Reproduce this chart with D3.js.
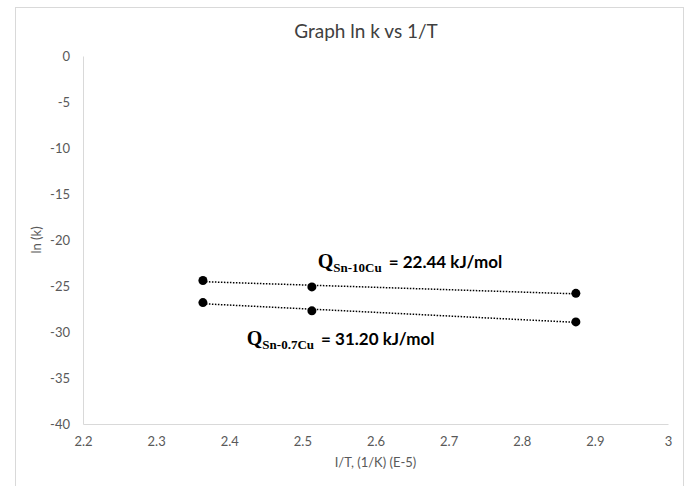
<!DOCTYPE html>
<html>
<head>
<meta charset="utf-8">
<script src="https://cdn.jsdelivr.net/npm/d3@7"></script>
<style>
  body { margin: 0; background: #fff; }
  svg { display: block; }
  .tick text { fill: #595959; font-family: Lato, "Liberation Sans", sans-serif; font-size: 13px; }
  .axisTitle { fill: #595959; font-family: Lato, "Liberation Sans", sans-serif; font-size: 13px; }
</style>
</head>
<body>
<svg width="688" height="486"></svg>
<script>
// 1/T values (E-5 as labelled on the chart)
const invT = [2.364, 2.513, 2.874];
const lnkSn10Cu = [-24.4, -25.1, -25.8];
const lnkSn07Cu = [-26.8, -27.7, -28.9];
const xTicks = [2.2, 2.3, 2.4, 2.5, 2.6, 2.7, 2.8, 2.9, 3];
const yTicks = [0, -5, -10, -15, -20, -25, -30, -35, -40];
const labels = [
    { main: "Q", sub: "Sn-10Cu", rest: "= 22.44 kJ/mol", at: [2.521, -23.0] },
    { main: "Q", sub: "Sn-0.7Cu", rest: "= 31.20 kJ/mol", at: [2.424, -31.4] }
];

const svg = d3.select('svg');

// chart frame
svg.append('rect')
    .attr('x', 15.5).attr('y', 7.5)
    .attr('width', 668).attr('height', 500)
    .attr('fill', '#fff')
    .attr('stroke', '#d9d9d9');

const x = d3.scaleLinear().domain([2.2, 3]).range([83, 668]);
const y = d3.scaleLinear().domain([-40, 0]).range([424, 56]);

const xAxis = svg.append('g')
    .attr('transform', 'translate(0,' + y(-40) + ')')
    .call(d3.axisBottom(x).tickValues(xTicks).tickSize(0).tickPadding(13).tickFormat(d3.format('')));
xAxis.select('.domain').attr('stroke', '#d9d9d9').attr('stroke-width', 1);

const yAxis = svg.append('g')
    .attr('transform', 'translate(' + x(2.2) + ',0)')
    .call(d3.axisLeft(y).tickValues(yTicks).tickSize(0).tickPadding(13).tickFormat(d => d));
yAxis.select('.domain').attr('stroke', '#d9d9d9').attr('stroke-width', 1);

// title and axis titles
svg.append('text')
    .attr('x', 366).attr('y', 38)
    .attr('text-anchor', 'middle')
    .attr('fill', '#404040')
    .style('font-family', 'Lato, "Liberation Sans", sans-serif')
    .style('font-size', '19px')
    .text('Graph ln k vs 1/T');

svg.append('text')
    .attr('class', 'axisTitle')
    .attr('x', (x(2.2) + x(3)) / 2).attr('y', 467)
    .attr('text-anchor', 'middle')
    .text('I/T, (1/K) (E-5)');

svg.append('text')
    .attr('class', 'axisTitle')
    .attr('transform', 'translate(41,' + (y(0) + y(-40)) / 2 + ') rotate(-90)')
    .attr('text-anchor', 'middle')
    .text('ln (k)');

// linear trendlines (least squares) + markers
function fit(xs, ys) {
    const mx = d3.mean(xs), my = d3.mean(ys);
    const b = d3.sum(xs, (v, i) => (v - mx) * (ys[i] - my)) / d3.sum(xs, v => (v - mx) * (v - mx));
    return v => my + b * (v - mx);
}

[lnkSn10Cu, lnkSn07Cu].forEach(series => {
    const f = fit(invT, series);
    const ext = d3.extent(invT);
    svg.append('line')
        .attr('x1', x(ext[0])).attr('y1', y(f(ext[0])))
        .attr('x2', x(ext[1])).attr('y2', y(f(ext[1])))
        .attr('stroke', '#000')
        .attr('stroke-width', 1.5)
        .attr('stroke-dasharray', '1.5,1.5');
    svg.append('g')
        .selectAll('circle')
        .data(series)
        .enter()
        .append('circle')
        .attr('cx', (d, i) => x(invT[i]))
        .attr('cy', d => y(d))
        .attr('r', 4.5)
        .attr('fill', '#000');
});

// annotations
labels.forEach(l => {
    const t = svg.append('text')
        .attr('x', x(l.at[0])).attr('y', y(l.at[1]))
        .attr('fill', '#000')
        .style('font-weight', 'bold');
    t.append('tspan')
        .style('font-family', '"Liberation Serif", serif')
        .style('font-size', '20px')
        .text(l.main);
    t.append('tspan')
        .attr('dy', 4)
        .style('font-family', '"Liberation Serif", serif')
        .style('font-size', '13px')
        .text(l.sub);
    t.append('tspan')
        .attr('dy', -4)
        .attr('dx', 7)
        .style('font-family', 'Lato, "Liberation Sans", sans-serif')
        .style('font-size', '17px')
        .text(l.rest);
});
</script>
</body>
</html>
